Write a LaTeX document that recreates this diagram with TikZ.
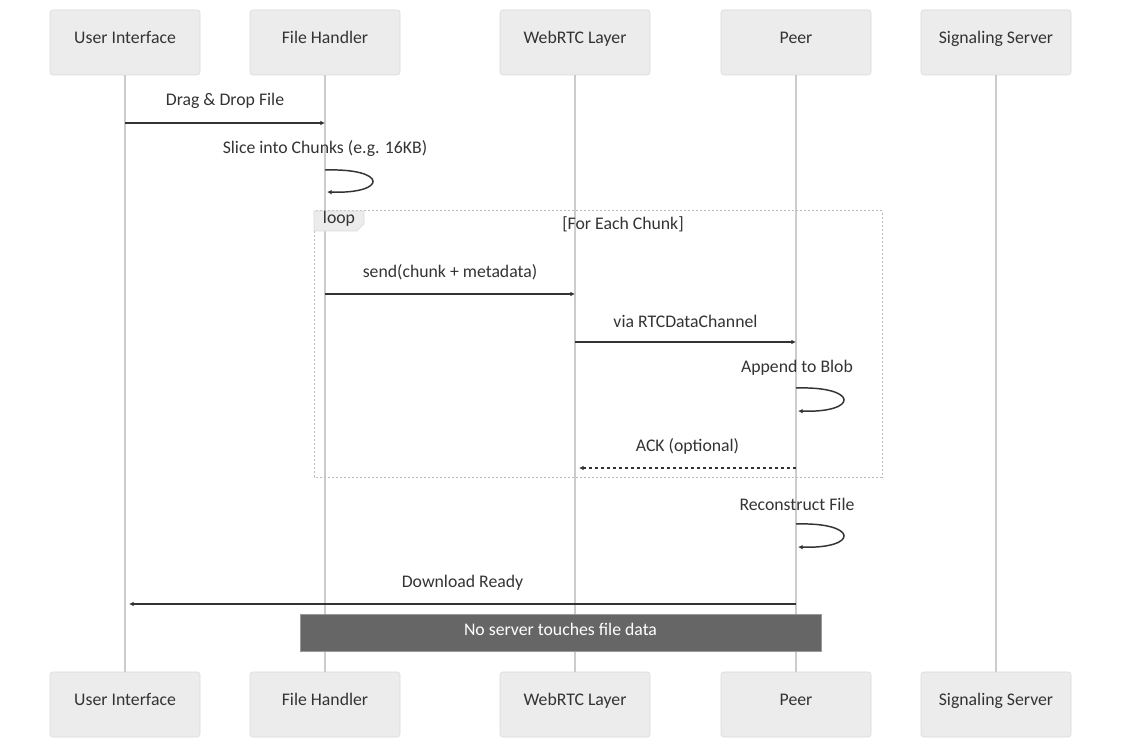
\documentclass[tikz,border=0pt]{standalone}
\usepackage{fontspec}
\setmainfont{Carlito}
\usetikzlibrary{arrows.meta}
\definecolor{boxfill}{HTML}{ECECEC}
\definecolor{boxline}{HTML}{DADADA}
\definecolor{life}{HTML}{CCCCCC}
\definecolor{msg}{HTML}{333333}
\definecolor{notef}{HTML}{666666}
\definecolor{notel}{HTML}{999999}
\definecolor{loopline}{HTML}{BBBBBB}

\begin{document}
\begin{tikzpicture}[x=0.75pt,y=-0.75pt,
  every node/.style={font=\fontsize{13.3}{15}\selectfont,text=msg},
  actor/.style={draw=boxline,fill=boxfill,rounded corners=2pt,minimum width=112.5pt,minimum height=48.75pt,text height=9pt,text depth=7pt},
  lifeline/.style={draw=life,line width=1pt},
  message/.style={draw=msg,line width=1.1pt,-{Latex[length=3.5pt,width=3.5pt]}},
  reply/.style={message,dash pattern=on 2.25pt off 2.25pt},
  mlabel/.style={inner sep=1pt}]
\useasboundingbox (0,0) rectangle (1121,748);

% actors, top and bottom
\node[actor] (ui) at (125,42.5) {User Interface};
\node[actor] (fh) at (325,42.5) {File Handler};
\node[actor] (rtc) at (575,42.5) {WebRTC Layer};
\node[actor] (peer) at (796,42.5) {Peer};
\node[actor] (sig) at (996,42.5) {Signaling Server};
\node[actor] (uiB) at (125,704.5) {User Interface};
\node[actor] (fhB) at (325,704.5) {File Handler};
\node[actor] (rtcB) at (575,704.5) {WebRTC Layer};
\node[actor] (peerB) at (796,704.5) {Peer};
\node[actor] (sigB) at (996,704.5) {Signaling Server};

\draw[lifeline] (ui) -- (uiB);
\draw[lifeline] (fh) -- (fhB);
\draw[lifeline] (rtc) -- (rtcB);
\draw[lifeline] (peer) -- (peerB);
\draw[lifeline] (sig) -- (sigB);

% loop frame
\draw[loopline,line width=0.75pt,dash pattern=on 1.5pt off 1.5pt] (314,211) rectangle (882,477);
\draw[fill=boxfill,draw=boxline,line width=0.5pt] (314,211) -- (364,211) -- (364,224) -- (357,231) -- (314,231) -- cycle;
\node (looptag) at (339,219) {loop};
\node (loopcond) at (623,224) {[For Each Chunk]};

% message points
\coordinate (U1) at (125,123);
\coordinate (F1) at (325,123);
\coordinate (F2) at (325,170);
\coordinate (F3) at (327,192);
\coordinate (F4) at (325,294);
\coordinate (W4) at (575,294);
\coordinate (W5) at (575,342);
\coordinate (P5) at (796,342);
\coordinate (P6) at (796,388);
\coordinate (P7) at (798,411);
\coordinate (P8) at (796,468);
\coordinate (W8) at (579,468);
\coordinate (P9) at (796,524);
\coordinate (P10) at (798,547);
\coordinate (P11) at (796,604);
\coordinate (U11) at (129,604);

\draw[message] (U1) -- node[mlabel,above=9pt] (l1) {Drag \& Drop File} (F1);
\draw[message] (F2) .. controls (388,168) and (388,194) .. (F3);
\node (l2) at (325,149) {Slice into Chunks (e.g. 16KB)};
\draw[message] (F4) -- node[mlabel,above=9pt] (l3) {send(chunk + metadata)} (W4);
\draw[message] (W5) -- node[mlabel,above=9pt] (l4) {via RTCDataChannel} (P5);
\draw[message] (P6) .. controls (859,386) and (859,413) .. (P7);
\node (l5) at (797,368) {Append to Blob};
\draw[reply] (P8) -- node[mlabel,above=9pt] (l6) {ACK (optional)} (W8);
\draw[message] (P9) .. controls (859,522) and (859,549) .. (P10);
\node (l7) at (797,504) {Reconstruct File};
\draw[message] (P11) -- node[mlabel,above=9pt] (l8) {Download Ready} (U11);

% note
\node[draw=notel,fill=notef,minimum width=390.75pt,minimum height=27.75pt,text height=9pt,text depth=5pt,text=white] (note) at (560.5,632.5) {No server touches file data};
\end{tikzpicture}
\end{document}
